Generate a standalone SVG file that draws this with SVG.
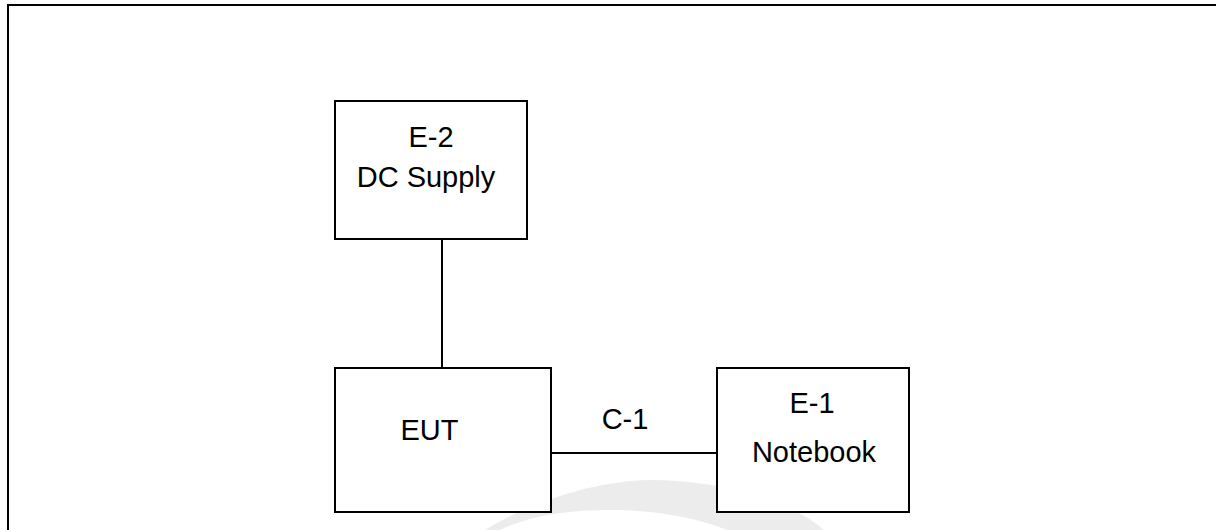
<svg xmlns="http://www.w3.org/2000/svg" width="1216" height="530" viewBox="0 0 1216 530">
<style>
.box{fill:#fff;stroke:#000;stroke-width:2}
.line{fill:none;stroke:#000;stroke-width:2}
text{font-family:"Liberation Sans",Arial,sans-serif;font-size:29px;fill:#000;text-anchor:middle}
</style>
<rect width="1216" height="530" fill="#fff"/>
<path id="watermark" d="M485 530C525 505 590 481 650 480C720 480 790 500 824 530H727C690 515 645 510 610 510C570 510 530 515 500 530Z" fill="#ececec"/>
<path id="frame" class="line" d="M8 530V5H1216"/>
<g id="connectors">
<path class="line" d="M442 240V368"/>
<path class="line" d="M550 453H717"/>
</g>
<g id="e2"><rect class="box" x="335" y="101" width="192" height="138"/><text x="431" y="147">E-2</text><text x="426" y="187">DC Supply</text></g>
<g id="eut"><rect class="box" x="335" y="368" width="216" height="144"/><text x="429.5" y="440">EUT</text></g>
<g id="e1"><rect class="box" x="717" y="368" width="192" height="144"/><text x="812" y="413">E-1</text><text x="814" y="462">Notebook</text></g>
<text id="c1" x="625" y="429">C-1</text>
</svg>
